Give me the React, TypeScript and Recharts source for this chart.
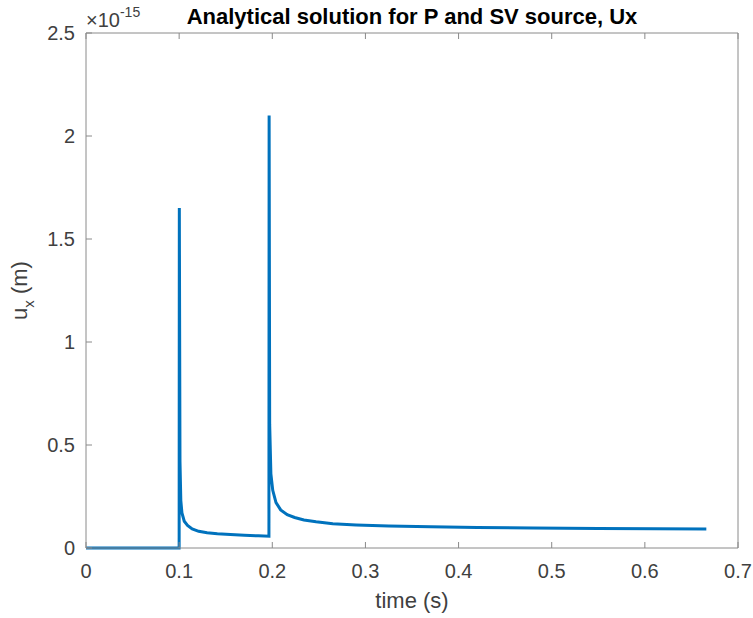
import React from 'react'
import { LineChart, Line, XAxis, YAxis, Label } from 'recharts'

// time samples (s) and horizontal displacement (units of 1e-15 m)
const TIME = [
  0, 0.05, 0.1, 0.1002, 0.1009, 0.1018, 0.103, 0.1055, 0.109, 0.114, 0.121, 0.13,
  0.141, 0.155, 0.17, 0.185, 0.1964, 0.1966, 0.1972, 0.1985, 0.2005, 0.204, 0.209,
  0.216, 0.224, 0.234, 0.247, 0.265, 0.29, 0.325, 0.37, 0.42, 0.48, 0.55, 0.61, 0.666,
]
const UX = [
  0, 0, 0, 1.65, 0.42, 0.23, 0.17, 0.13, 0.11, 0.093, 0.081, 0.074,
  0.069, 0.065, 0.062, 0.059, 0.057, 2.1, 0.6, 0.36, 0.28, 0.22, 0.185,
  0.162, 0.148, 0.136, 0.127, 0.118, 0.112, 0.107, 0.103, 0.1, 0.097, 0.095, 0.093, 0.092,
]
const X_TICKS = [0, 0.1, 0.2, 0.3, 0.4, 0.5, 0.6, 0.7]
const Y_TICKS = [0, 0.5, 1, 1.5, 2, 2.5]

const TITLE = 'Analytical solution for P and SV source, Ux'

const data = TIME.map((t, i) => ({ t, ux: UX[i] }))

const FONT = '"Liberation Sans", Arial, Helvetica, sans-serif'
const AXIS = '#8a8a8a'
const TXT = '#404040'
const TICK = 6
const TICK_FS = 20
const LABEL_FS = 22

const BottomTick = (p: any) => (
  <g>
    <line x1={p.x} y1={p.y} x2={p.x} y2={p.y - TICK} stroke={AXIS} />
    <text x={p.x} y={p.y + 30} textAnchor="middle" fontSize={TICK_FS} fill={TXT} fontFamily={FONT}>
      {p.payload.value}
    </text>
  </g>
)
const TopTick = (p: any) => (
  <line x1={p.x} y1={p.y} x2={p.x} y2={p.y + TICK} stroke={AXIS} />
)
const LeftTick = (p: any) => (
  <g>
    <line x1={p.x} y1={p.y} x2={p.x + TICK} y2={p.y} stroke={AXIS} />
    <text x={p.x - 11} y={p.y + 7} textAnchor="end" fontSize={TICK_FS} fill={TXT} fontFamily={FONT}>
      {p.payload.value}
    </text>
  </g>
)
const RightTick = (p: any) => (
  <line x1={p.x} y1={p.y} x2={p.x - TICK} y2={p.y} stroke={AXIS} />
)

export default function App() {
  return (
    <div style={{ position: 'fixed', left: 0, top: 0, background: '#fff' }}>
      <LineChart width={753} height={618} data={data} margin={{ top: 0, right: 0, bottom: 0, left: 0 }}>
        <XAxis
          xAxisId="b" dataKey="t" type="number" domain={[0, 0.7]} ticks={X_TICKS}
          height={70} tickSize={0} tickMargin={0} tickLine={false}
          axisLine={{ stroke: AXIS }} tick={<BottomTick />} interval={0}
        >
          <Label
            content={(lp: any) => (
              <text x={lp.viewBox.x + lp.viewBox.width / 2} y={lp.viewBox.y + 60}
                textAnchor="middle" fontSize={LABEL_FS} fill={TXT} fontFamily={FONT}>time (s)</text>
            )}
          />
        </XAxis>
        <XAxis
          xAxisId="t" orientation="top" dataKey="t" type="number" domain={[0, 0.7]} ticks={X_TICKS}
          height={33} tickSize={0} tickMargin={0} tickLine={false}
          axisLine={{ stroke: AXIS }} tick={<TopTick />} interval={0}
        >
          <Label
            content={(lp: any) => (
              <g fontFamily={FONT}>
                <text x={lp.viewBox.x + lp.viewBox.width / 2} y={24} textAnchor="middle"
                  fontSize={LABEL_FS} fontWeight="bold" fill="#000">{TITLE}</text>
                <text x={lp.viewBox.x} y={27} fontSize={TICK_FS} fill={TXT}>
                  ×10<tspan dy={-10} fontSize={14}>-15</tspan>
                </text>
              </g>
            )}
          />
        </XAxis>
        <YAxis
          yAxisId="l" type="number" domain={[0, 2.5]} ticks={Y_TICKS} width={86}
          tickSize={0} tickMargin={0} tickLine={false} axisLine={{ stroke: AXIS }}
          tick={<LeftTick />} interval={0}
        >
          <Label
            content={(lp: any) => {
              const cx = 27
              const cy = lp.viewBox.y + lp.viewBox.height / 2
              return (
                <text x={cx} y={cy} transform={`rotate(-90 ${cx} ${cy})`} textAnchor="middle"
                  fontSize={LABEL_FS} fill={TXT} fontFamily={FONT}>
                  u<tspan dy={7} fontSize={15}>x</tspan><tspan dy={-7}> (m)</tspan>
                </text>
              )
            }}
          />
        </YAxis>
        <YAxis
          yAxisId="r" orientation="right" type="number" domain={[0, 2.5]} ticks={Y_TICKS} width={15}
          tickSize={0} tickMargin={0} tickLine={false} axisLine={{ stroke: AXIS }}
          tick={<RightTick />} interval={0}
        />
        <Line
          xAxisId="b" yAxisId="l" type="linear" dataKey="ux" stroke="#0072BD" strokeWidth={3}
          dot={false} activeDot={false} isAnimationActive={false}
        />
      </LineChart>
    </div>
  )
}
